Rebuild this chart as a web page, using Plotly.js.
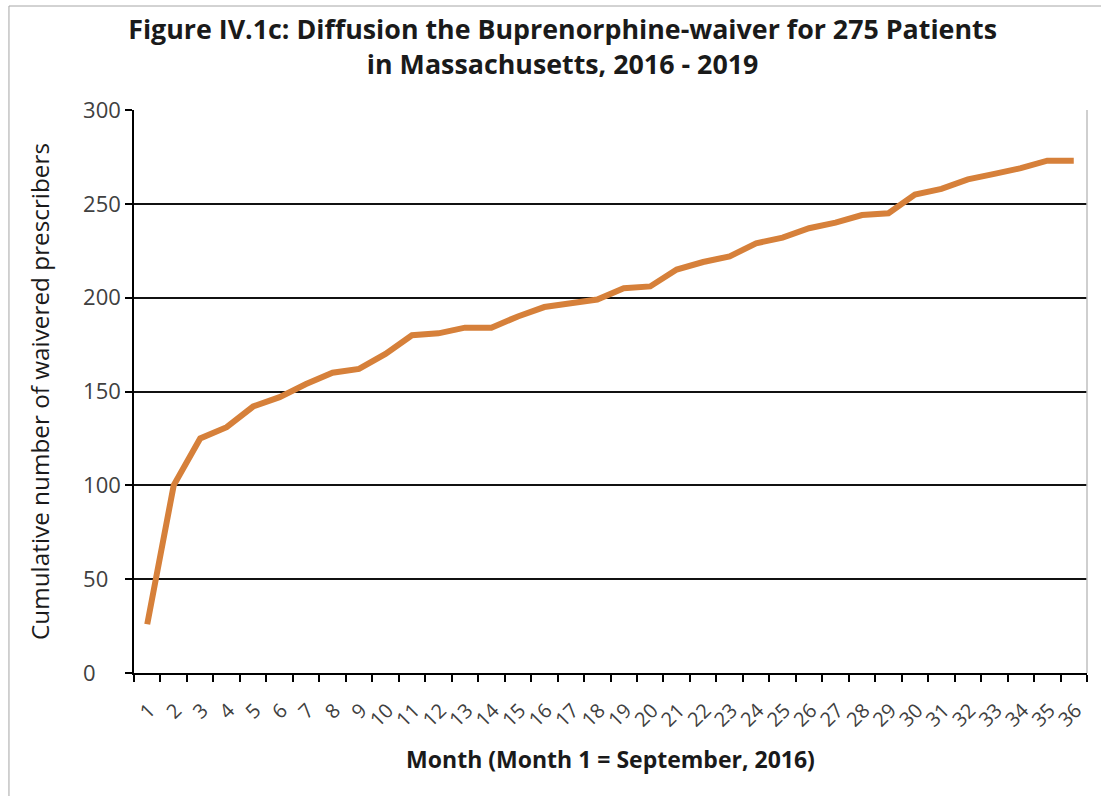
<!DOCTYPE html>
<html>
<head>
<meta charset="utf-8">
<script src="https://cdn.plot.ly/plotly-3.0.1.min.js"></script>
<style>html,body{margin:0;padding:0;background:#fff;}#chart{width:1101px;height:796px;}</style>
</head>
<body>
<div id="chart"></div>
<script>
// Data
const months = ["1","2","3","4","5","6","7","8","9","10","11","12","13","14","15","16","17","18","19","20","21","22","23","24","25","26","27","28","29","30","31","32","33","34","35","36"];
const cumulativePrescribers = [26,100,125,131,142,147,154,160,162,170,180,181,184,184,190,195,197,199,205,206,215,219,222,229,232,237,240,244,245,255,258,263,266,269,273,273];
const yTicks = [0,50,100,150,200,250,300];

const chartTitle = "Figure IV.1c: Diffusion the Buprenorphine-waiver for 275 Patients<br>in Massachusetts, 2016 - 2019";
const xTitle = "Month (Month 1 = September, 2016)";
const yTitle = "Cumulative number of waivered prescribers";

const FONT = "'Open Sans', 'Noto Sans', sans-serif";

// Left-aligned tick labels (as in the reference) by padding with figure spaces
const maxLen = Math.max(...yTicks.map(v => String(v).length));
const yTickText = yTicks.map(v => String(v) + "\u2007".repeat(maxLen - String(v).length));

const trace = {
  type: "scatter",
  mode: "lines",
  x: months,
  y: cumulativePrescribers,
  line: {color: "#D6803A", width: 6},
  hoverinfo: "x+y",
  showlegend: false
};

const layout = {
  width: 1101,
  height: 796,
  margin: {l: 134, r: 14, t: 110, b: 123, pad: 0},
  paper_bgcolor: "#ffffff",
  plot_bgcolor: "#ffffff",
  font: {family: FONT, color: "#404040"},
  title: {
    text: chartTitle,
    font: {family: FONT, size: 26.8, color: "#1a1a1a", weight: "bold"},
    x: 0.511, xref: "container", xanchor: "center",
    y: 0.951, yref: "container", yanchor: "middle"
  },
  xaxis: {
    type: "category",
    range: [-0.5, 35.5],
    tickson: "boundaries",
    ticks: "outside",
    ticklen: 7,
    tickwidth: 1.5,
    tickcolor: "#000",
    tickangle: -45,
    ticklabelstandoff: 16,
    ticklabelshift: 2,
    tickfont: {family: FONT, size: 20, color: "#404040"},
    showline: true,
    linecolor: "#000",
    linewidth: 1.6,
    showgrid: false,
    zeroline: false,
    automargin: false,
    title: {text: xTitle, font: {family: FONT, size: 23, color: "#1a1a1a", weight: "bold"}, standoff: 21}
  },
  yaxis: {
    range: [0, 300],
    tickvals: yTicks,
    ticktext: yTickText,
    ticks: "outside",
    ticklen: 7,
    tickwidth: 1.5,
    tickcolor: "#000",
    tickfont: {family: FONT, size: 22, color: "#404040"},
    showline: true,
    linecolor: "#000",
    linewidth: 1.6,
    showgrid: true,
    gridcolor: "#111",
    gridwidth: 1.6,
    zeroline: false,
    automargin: false,
    title: {text: yTitle, font: {family: FONT, size: 24.3, color: "#1a1a1a"}, standoff: 27}
  },
  shapes: [
    {type: "line", xref: "paper", yref: "paper", x0: 1, x1: 1, y0: 0, y1: 1, line: {color: "#bfbfbf", width: 1.5}},
    {type: "rect", xref: "paper", yref: "paper", x0: -0.1312, x1: 1.05, y0: -0.25, y1: 1.1847, line: {color: "#a6a6a6", width: 1}, fillcolor: "rgba(0,0,0,0)", layer: "below"}
  ]
};

Plotly.newPlot("chart", [trace], layout, {displayModeBar: false, responsive: false});
</script>
</body>
</html>
